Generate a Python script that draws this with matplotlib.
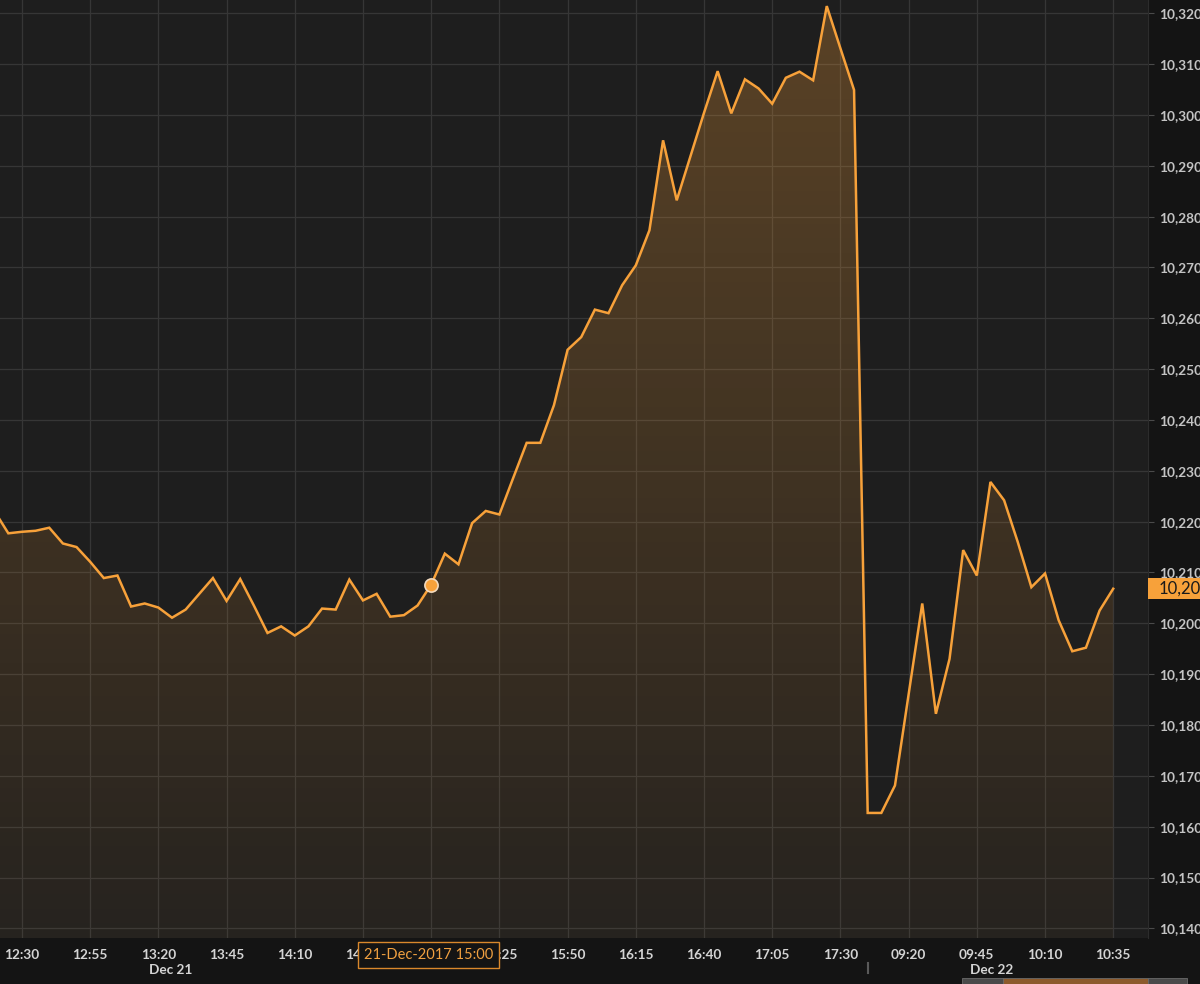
#!/usr/bin/env python
'''
Grafico de precio intradiario (estilo terminal oscuro)
Se guarda como out.png
'''

import numpy as np
import matplotlib
matplotlib.use('Agg')
import matplotlib.pyplot as plt
import matplotlib.transforms as mtransforms
from matplotlib.patches import Polygon, Rectangle

# Datos: un punto cada 5 minutos (indice 0 = 12:30 del 21-Dec)
indices = list(range(-2, 81))
precios = [
    10222.0, 10217.7,
    10218.0, 10218.2, 10218.8, 10215.7, 10215.0,
    10212.1, 10208.9, 10209.4, 10203.3, 10203.9,
    10203.1, 10201.1, 10202.7, 10205.8, 10208.9,
    10204.4, 10208.7, 10203.5, 10198.1, 10199.4,
    10197.6, 10199.4, 10202.9, 10202.7, 10208.6,
    10204.5, 10205.8, 10201.3, 10201.6, 10203.5,
    10207.6, 10213.7, 10211.6, 10219.7, 10222.1,
    10221.4, 10228.5, 10235.5, 10235.5, 10242.9,
    10253.8, 10256.3, 10261.7, 10261.0, 10266.5,
    10270.4, 10277.3, 10295.0, 10283.2, 10291.8,
    10300.4, 10308.6, 10300.3, 10307.0, 10305.2,
    10302.2, 10307.3, 10308.5, 10306.8, 10321.4,
    10313.1, 10304.9, 10162.7, 10162.7, 10168.1,
    10186.0, 10203.9, 10182.2, 10193.0, 10214.4,
    10209.4, 10227.8, 10224.2, 10216.0, 10207.1,
    10209.8, 10200.6, 10194.5, 10195.2, 10202.5,
    10206.8,
]

# Etiquetas del eje x (cada 5 puntos = 25 minutos)
tick_pos = list(range(0, 81, 5))
tick_labels = ['12:30', '12:55', '13:20', '13:45', '14:10', '14:35', '15:00',
               '15:25', '15:50', '16:15', '16:40', '17:05', '17:30',
               '09:20', '09:45', '10:10', '10:35']
y_ticks = list(range(10140, 10321, 10))

dias = ['Dec 21', 'Dec 22']
dias_pos = [10.9, 71.1]
corte_dia = 62
hover_idx = 30
hover_label = '21-Dec-2017 15:00'

NARANJA = '#f7a13a'
FONDO = '#1e1e1e'
PANEL = '#141414'


def gradiente(ax, x, y, ybot):
    # Relleno degradado bajo la linea, recortado al poligono
    verts = [(x[0], ybot)] + list(zip(x, y)) + [(x[-1], ybot)]
    poly = Polygon(verts, closed=True, facecolor='none', edgecolor='none')
    ax.add_patch(poly)

    rgb = matplotlib.colors.to_rgb(NARANJA)
    img = np.zeros((256, 1, 4))
    img[:, 0, 0:3] = rgb
    img[:, 0, 3] = np.linspace(0.28, 0.04, 256)
    x0, x1 = ax.get_xlim()
    y0, y1 = ax.get_ylim()
    im = ax.imshow(img, aspect='auto', extent=[x0, x1, y0, y1],
                   origin='upper', zorder=2)
    im.set_clip_path(poly)


if __name__ == '__main__':
    plt.rcParams['font.family'] = ['Lato', 'DejaVu Sans']

    fig = plt.figure(figsize=(12, 9.84), dpi=100, facecolor=PANEL)
    ax = fig.add_axes([0, 46 / 984, 1148 / 1200, 938 / 984])
    ax.set_facecolor(FONDO)

    ax.set_xlim(-1.61, 82.55)
    ax.set_ylim(10138.1, 10322.6)

    gradiente(ax, indices, precios, 10138.1)
    ax.plot(indices, precios, color=NARANJA, lw=1.8, zorder=4,
            solid_joinstyle='miter')

    # Punto seleccionado
    ax.plot(hover_idx, precios[indices.index(hover_idx)], 'o', ms=9.5,
            mfc=NARANJA, mec='#f2d9bd', mew=1.2, zorder=5)

    # Grilla y ejes
    ax.set_axisbelow(True)
    ax.grid(True, color='#363636', lw=0.9)
    for s in ['top', 'left', 'bottom']:
        ax.spines[s].set_visible(False)
    ax.spines['right'].set_color('#2c2c2c')

    ax.set_xticks(tick_pos)
    ax.set_xticklabels(tick_labels)
    ax.tick_params(axis='x', length=0, pad=8, labelsize=9.8,
                   labelcolor='#d4d4d4')

    ax.yaxis.tick_right()
    ax.set_yticks(y_ticks)
    ax.set_yticklabels([f'{v:,}' for v in y_ticks])
    ax.tick_params(axis='y', length=4, width=0.8, color='#4a4a4a', pad=4,
                   labelsize=9.8, labelcolor='#c4c4c4')
    for t in ax.get_xticklabels() + ax.get_yticklabels():
        t.set_fontweight('bold')

    trans_x = ax.get_xaxis_transform()
    for d, p in zip(dias, dias_pos):
        ax.text(p, -0.034, d, transform=trans_x, ha='center', va='center',
                fontsize=9.8, color='#d4d4d4', fontweight='bold')

    # Separador de dias
    ax.plot([corte_dia, corte_dia], [-0.027, -0.037], transform=trans_x,
            color='#5a5a5a', lw=1.5, clip_on=False)

    # Cuadro de fecha del punto seleccionado
    ax.text(hover_idx - 0.2, -0.0181, hover_label, transform=trans_x,
            ha='center', va='center', fontsize=10.5, color='#f0a040',
            zorder=12, clip_on=False,
            bbox=dict(boxstyle='square,pad=0.42', fc='#141414',
                      ec='#d9882c', lw=1))

    # Etiqueta del ultimo precio
    ultimo = precios[-1]
    trans_y = mtransforms.blended_transform_factory(ax.transAxes, ax.transData)
    ax.add_patch(Rectangle((1.0, ultimo - 2.05), 0.06, 4.1, transform=trans_y,
                           clip_on=False, fc=NARANJA, ec='none', zorder=10))
    ax.text(1.0 + 11 / 1148, ultimo, f'{round(ultimo):,}', transform=trans_y,
            ha='left', va='center', fontsize=12, color='#1a1a1a',
            zorder=11, clip_on=False)

    # Barra de navegacion (recortada abajo)
    H, W = 984, 1200
    for x0, x1, c in [(962, 1003, '#4a4a4a'), (1003, 1148, '#8c5a2c'),
                      (1148, 1187, '#4a4a4a')]:
        fig.patches.append(Rectangle((x0 / W, 0), (x1 - x0) / W, 6 / H,
                                     transform=fig.transFigure, fc=c,
                                     ec='#6a6a6a', lw=0.6))

    fig.savefig('out.png', dpi=100, facecolor=fig.get_facecolor())
